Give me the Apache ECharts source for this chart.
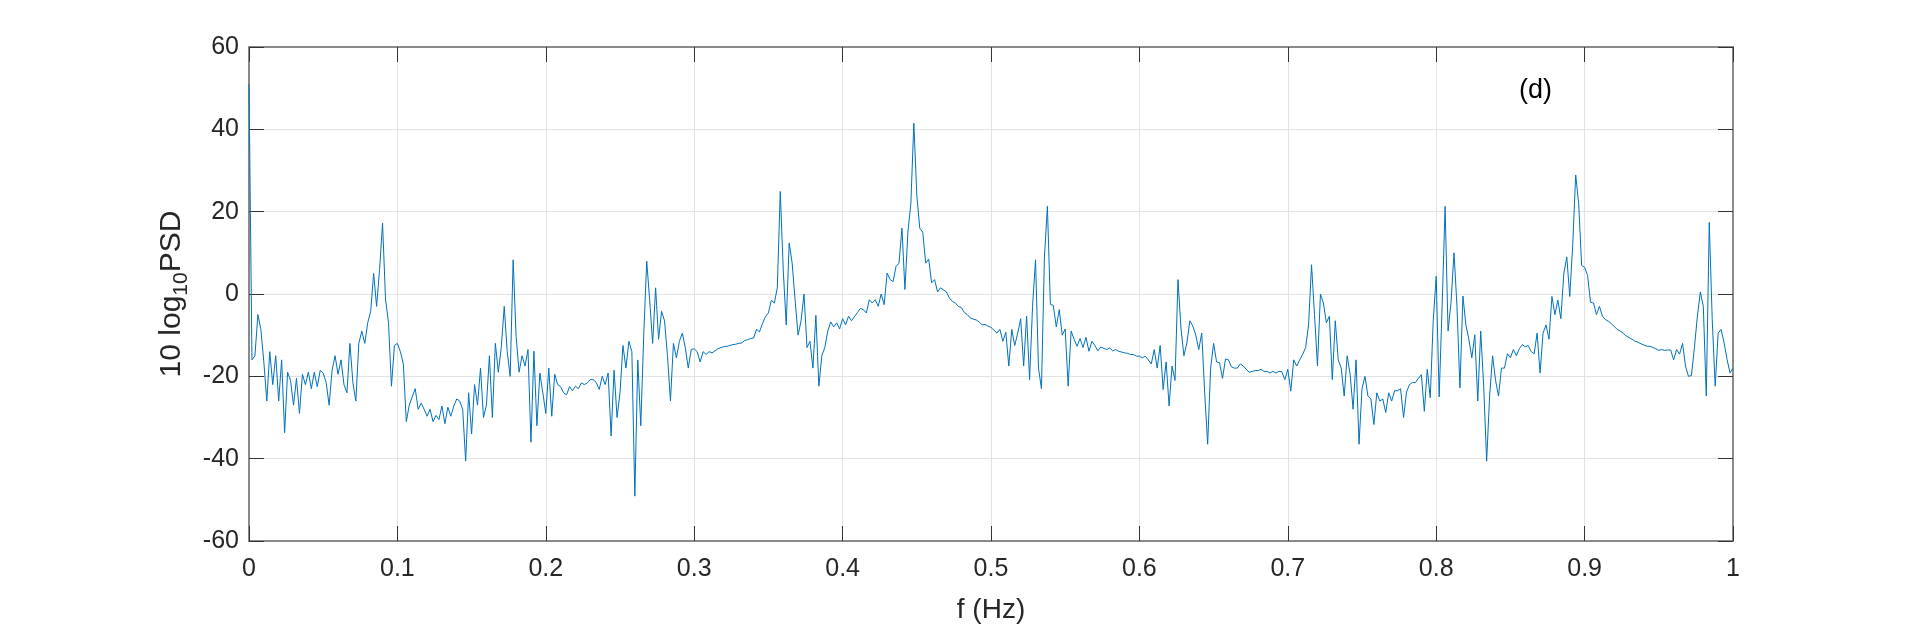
<!DOCTYPE html>
<html>
<head>
<meta charset="utf-8">
<title>PSD (d)</title>
<script src="https://cdn.jsdelivr.net/npm/echarts@6/dist/echarts.min.js"></script>
<style>
  html, body { margin: 0; padding: 0; background: #fff; }
  #chart { width: 1915px; height: 629px; }
</style>
</head>
<body>
<div id="chart"></div>
<script>
// frequency grid (Hz) of the spectrum
var fStart = 0;
var fStep = 0.002;

// 10 log10 PSD, one value per bin
var psdDb = [
  51, -16, -15, -5, -8.6, -16.5, -26, -14, -22, -15,
  -26, -16, -33.7, -19, -21, -27, -20.5, -29, -19.5, -22,
  -19, -23, -19, -22.5, -18.5, -19.2, -21.5, -27, -18.5, -15,
  -19.5, -16, -22, -24, -12, -21.5, -26, -12, -9, -12,
  -7, -4.2, 5, -3, 6, 17.2, -1.2, -7, -22.4, -12.5,
  -12, -14, -17, -31, -27, -25, -23, -28, -26.5, -28,
  -29.7, -28, -31, -29.5, -30.5, -27.2, -31.5, -27.5, -29.7, -27.2,
  -25.5, -26, -28, -40.6, -24, -34, -22, -27, -18, -30,
  -27, -15, -30, -12, -19, -13, -3, -14, -20, 8.3,
  -10.3, -19, -15, -17.5, -13.5, -36, -13.9, -32, -19.2, -24,
  -29, -18, -29.7, -19.5, -22, -22.5, -24, -24.5, -22.5, -23.5,
  -22.4, -23, -21.6, -22, -21.6, -20.8, -20.8, -21.5, -23.2, -20,
  -22, -19.2, -34.5, -18.5, -30, -24, -12.5, -18, -11.5, -14,
  -49.1, -16, -32, -10, 8, -1.5, -12, 1.5, -11, -4.2,
  -6.5, -15, -26, -12, -15.5, -11.5, -9.5, -13, -18, -13.5,
  -13.3, -14, -16.5, -14, -14.7, -14, -14.3, -13.8, -13.3, -13,
  -12.8, -12.7, -12.5, -12.3, -12.2, -12, -11.9, -11.3, -11.1, -10.8,
  -10.7, -8.6, -9.2, -7.2, -5.5, -4.6, -1.5, -2.2, 1.5, 24.9,
  5.9, -7.5, 12.4, 7.5, -1.5, -10, -6.5, 0, -13, -11.5,
  -18, -5.2, -22.4, -15, -13, -9, -6.8, -8, -7, -8.5,
  -6, -7.5, -5.4, -6.5, -5.5, -4.5, -3.5, -3.8, -4.6, -1.4,
  -2.2, -1.4, -3, 0, -2.6, 5.1, 3.5, 3, 6.7, 7.5,
  16, 1.1, 15, 22, 41.5, 24, 16, 15, 7.5, 8.5,
  2.7, 3.5, 0.5, 1.5, 1, 0.5, -1, -1.8, -2.2, -3,
  -3.3, -4.5, -5, -5.8, -6.1, -6.3, -6.8, -7.5, -7.4, -7.8,
  -8.1, -8.8, -9.5, -8.6, -11.5, -9.3, -17.5, -8.6, -12.5, -9.5,
  -6, -17.5, -5.4, -20.8, -3, 8.3, -18, -23, 9, 21.3,
  -2.5, -2.8, -8, -3.8, -10, -8.5, -22.4, -9, -11, -12.7,
  -10.8, -13, -10.5, -13.9, -11.5, -12.5, -13.8, -12.9, -13.2, -13.5,
  -13.1, -13.8, -13.5, -13.9, -14.1, -14.3, -14.4, -14.7, -14.7, -15.1,
  -15.1, -15.5, -15.1, -16, -17, -13.5, -18, -12.5, -23.2, -16.5,
  -27.2, -17.5, -21, 3.5, -8.3, -15, -11.9, -6.5, -7.8, -10,
  -13.5, -9.5, -24, -36.5, -18, -12, -16.5, -16.7, -20.5, -15.8,
  -16, -17.7, -18, -18, -17, -17.5, -18.3, -19, -18.8, -18.6,
  -18.6, -18.3, -18.8, -18.8, -19.2, -18.8, -19.2, -18.8, -18.9, -20.8,
  -18.3, -23.6, -16, -17.5, -16, -14.7, -13, -7.5, 7.1, -5,
  -17.5, 0, -2.2, -7, -5.4, -20.8, -6.5, -16, -18, -24.8,
  -15, -19.5, -28, -16, -36.5, -23, -20, -24.8, -25.5, -31.7,
  -24, -26, -25.5, -28.8, -24, -26, -23.5, -23.5, -23, -30,
  -23.8, -22, -21.5, -21.5, -20.5, -19.6, -28.5, -18.3, -25.2, -6.5,
  4.3, -25, -3, 21.3, -9, -2, 10, -3, -22.8, -0.5,
  -7.5, -11, -15.5, -9.9, -26, -9, -22.5, -40.6, -24.8, -15,
  -21, -24.8, -18, -18, -14.5, -15.5, -13.5, -15, -13.3, -12.3,
  -12.8, -12.5, -14, -14.5, -9.5, -19.2, -9.5, -7.5, -11, -0.6,
  -5, -1.5, -6, 5, 9, -0.6, 12, 28.9, 22, 7,
  6.5, 4.5, -2, -2.2, -5, -3, -5.4, -6.2, -6.6, -7.2,
  -7.9, -8.6, -9, -9.5, -10.2, -10.6, -11, -11.5, -11.7, -12.1,
  -12.4, -12.7, -12.7, -13, -13.3, -13.7, -13.5, -13.7, -13.6, -13.6,
  -16, -13.5, -14.6, -12, -17.5, -20, -19.8, -13, -5.4, 0.5,
  -3, -24.8, 17.4, -6.2, -22.4, -9.5, -8.6, -11.9, -15.9, -19.2,
  -18
];

var panelLabel = '(d)';

var lineData = [];
for (var i = 0; i < psdDb.length; i++) {
  lineData.push([+(fStart + i * fStep).toFixed(4), psdDb[i]]);
}

var font = '"Liberation Sans", Arial, Helvetica, sans-serif';
var textColor = '#262626';
var boxColor = '#8a8a8a';
var gridColor = '#e3e3e3';

var myChart = echarts.init(document.getElementById('chart'), null, {renderer: 'canvas'});

myChart.setOption({
  animation: false,
  backgroundColor: '#ffffff',
  grid: {left: 249, top: 47, right: 182, bottom: 87, containLabel: false},
  graphic: [{
    type: 'text',
    left: 1519,
    top: 77,
    style: {text: panelLabel, font: '27px ' + font, fill: '#000'}
  }],
  xAxis: [
    {
      type: 'value',
      min: 0,
      max: 1,
      interval: 0.1,
      position: 'bottom',
      name: 'f (Hz)',
      nameLocation: 'middle',
      nameGap: 55,
      nameTextStyle: {fontFamily: font, fontSize: 28, color: textColor},
      axisLine: {show: true, onZero: false, lineStyle: {color: boxColor, width: 2}},
      axisTick: {show: true, inside: true, length: 15, lineStyle: {color: '#333', width: 1}},
      axisLabel: {margin: 16, fontFamily: font, fontSize: 25, color: textColor},
      splitLine: {show: true, lineStyle: {color: gridColor, width: 1}}
    },
    {
      type: 'value',
      min: 0,
      max: 1,
      interval: 0.1,
      position: 'top',
      axisLine: {show: true, onZero: false, lineStyle: {color: boxColor, width: 2}},
      axisTick: {show: true, inside: true, length: 15, lineStyle: {color: '#333', width: 1}},
      axisLabel: {show: false},
      splitLine: {show: false}
    }
  ],
  yAxis: [
    {
      type: 'value',
      min: -60,
      max: 60,
      interval: 20,
      position: 'left',
      name: '10 log{sub|10}PSD',
      nameLocation: 'middle',
      nameGap: 56,
      nameRotate: 90,
      nameTextStyle: {
        fontFamily: font, fontSize: 30, color: textColor,
        rich: {
          sub: {fontFamily: font, fontSize: 21, color: textColor, verticalAlign: 'bottom', lineHeight: 40}
        }
      },
      axisLine: {show: true, onZero: false, lineStyle: {color: boxColor, width: 2}},
      axisTick: {show: true, inside: true, length: 15, lineStyle: {color: '#333', width: 1}},
      axisLabel: {margin: 10, fontFamily: font, fontSize: 25, color: textColor},
      splitLine: {show: true, lineStyle: {color: gridColor, width: 1}}
    },
    {
      type: 'value',
      min: -60,
      max: 60,
      interval: 20,
      position: 'right',
      axisLine: {show: true, onZero: false, lineStyle: {color: boxColor, width: 2}},
      axisTick: {show: true, inside: true, length: 15, lineStyle: {color: '#333', width: 1}},
      axisLabel: {show: false},
      splitLine: {show: false}
    }
  ],
  series: [
    {
      name: 'PSD',
      type: 'line',
      xAxisIndex: 0,
      yAxisIndex: 0,
      data: lineData,
      showSymbol: false,
      symbol: 'none',
      sampling: null,
      lineStyle: {color: '#0072bd', width: 1},
      z: 3
    }
  ]
});
</script>
</body>
</html>
